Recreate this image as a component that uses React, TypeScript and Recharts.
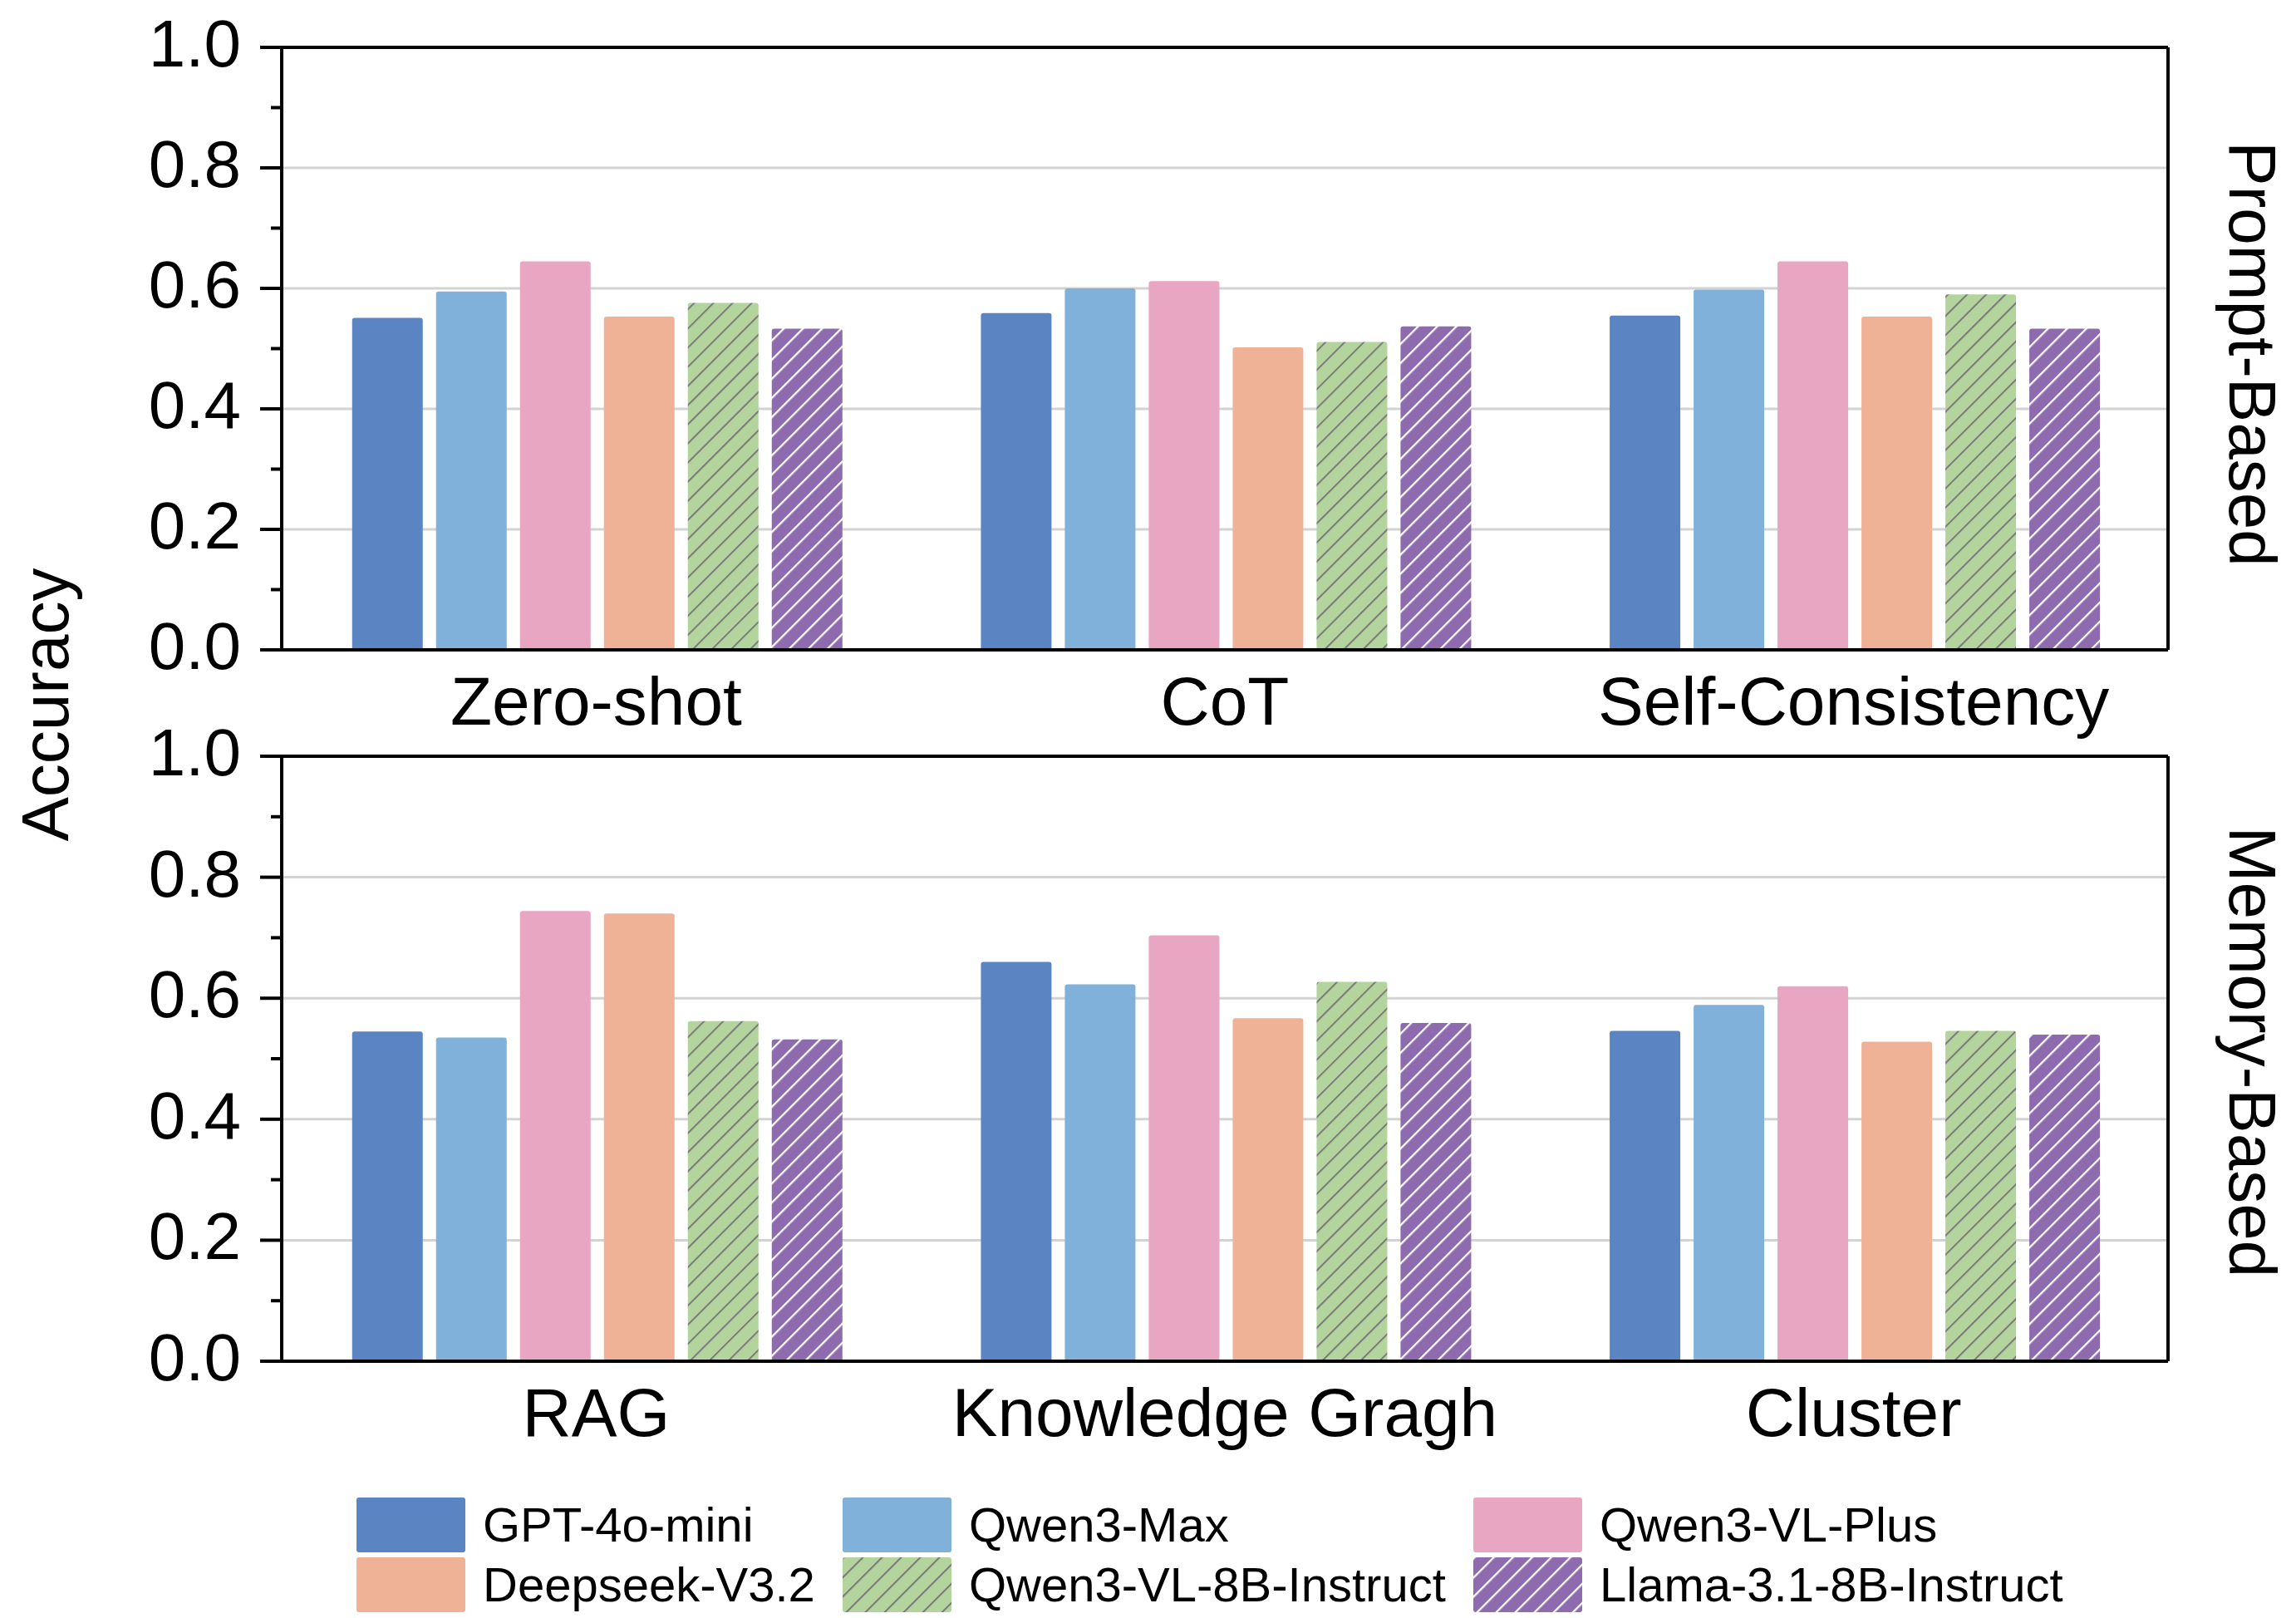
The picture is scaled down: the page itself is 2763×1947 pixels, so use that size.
import React from "react";
import {
  BarChart,
  Bar,
  XAxis,
  YAxis,
  CartesianGrid,
} from "recharts";

// categories per panel
const promptMethods = ["Zero-shot", "CoT", "Self-Consistency"];
const memoryMethods = ["RAG", "Knowledge Gragh", "Cluster"];

const models = [
  "GPT-4o-mini",
  "Qwen3-Max",
  "Qwen3-VL-Plus",
  "Deepseek-V3.2",
  "Qwen3-VL-8B-Instruct",
  "Llama-3.1-8B-Instruct",
];

// Prompt-Based accuracy
const promptGpt = [0.551, 0.559, 0.555];
const promptQwenMax = [0.595, 0.6, 0.598];
const promptQwenVLPlus = [0.645, 0.612, 0.645];
const promptDeepseek = [0.553, 0.502, 0.553];
const promptQwenVL8B = [0.576, 0.511, 0.59];
const promptLlama = [0.533, 0.537, 0.533];

// Memory-Based accuracy
const memoryGpt = [0.545, 0.66, 0.546];
const memoryQwenMax = [0.535, 0.623, 0.589];
const memoryQwenVLPlus = [0.744, 0.704, 0.62];
const memoryDeepseek = [0.74, 0.567, 0.528];
const memoryQwenVL8B = [0.562, 0.627, 0.546];
const memoryLlama = [0.532, 0.559, 0.54];

const yTicks = [0, 0.1, 0.2, 0.3, 0.4, 0.5, 0.6, 0.7, 0.8, 0.9, 1.0];
const gridValues = [0.2, 0.4, 0.6, 0.8];

const FILLS = [
  "#5B84C2",
  "#7FB1DB",
  "#E9A6C2",
  "#F0B297",
  "url(#hatchGreen)",
  "url(#hatchPurple)",
];

const FONT = "'Liberation Sans', Arial, Helvetica, sans-serif";

const buildRows = (cats: string[], series: number[][]) =>
  cats.map((name, i) => {
    const row: Record<string, any> = { name };
    series.forEach((s, k) => {
      row[models[k]] = s[i];
    });
    return row;
  });

const promptRows = buildRows(promptMethods, [
  promptGpt,
  promptQwenMax,
  promptQwenVLPlus,
  promptDeepseek,
  promptQwenVL8B,
  promptLlama,
]);
const memoryRows = buildRows(memoryMethods, [
  memoryGpt,
  memoryQwenMax,
  memoryQwenVLPlus,
  memoryDeepseek,
  memoryQwenVL8B,
  memoryLlama,
]);

const YTick = (props: any) => {
  const { x, y, payload } = props;
  const v = Number(payload.value);
  const major = Math.round(v * 10) % 2 === 0;
  return (
    <g>
      <line
        x1={x - (major ? 26 : 13)}
        x2={x}
        y1={y}
        y2={y}
        stroke="#000"
        strokeWidth={4}
      />
      {major && (
        <text
          x={x - 49}
          y={y + 23}
          textAnchor="end"
          fontSize={80}
          fill="#000"
          fontFamily={FONT}
        >
          {v.toFixed(1)}
        </text>
      )}
    </g>
  );
};

const Panel: React.FC<{ rows: any[]; top: number; height: number }> = ({
  rows,
  top,
  height,
}) => (
  <div style={{ position: "absolute", left: 0, top }}>
    <BarChart
      width={2763}
      height={height}
      data={rows}
      margin={{ top: 55, right: 152, bottom: 0, left: 0 }}
      barCategoryGap="11.2%"
      barGap={16}
    >
      <CartesianGrid
        vertical={false}
        horizontalValues={gridValues}
        stroke="#d3d3d3"
        strokeWidth={3}
      />
      <XAxis
        dataKey="name"
        interval={0}
        tickLine={false}
        tickSize={0}
        tickMargin={32}
        height={118}
        axisLine={{ stroke: "#000", strokeWidth: 4 }}
        tick={{ fontSize: 82, fill: "#000", fontFamily: FONT }}
      />
      <XAxis
        xAxisId="top"
        dataKey="name"
        orientation="top"
        height={2}
        tick={false}
        tickLine={false}
        axisLine={{ stroke: "#000", strokeWidth: 4 }}
      />
      <YAxis
        domain={[0, 1]}
        ticks={yTicks}
        interval={0}
        width={339}
        tickSize={0}
        tickMargin={0}
        tickLine={false}
        axisLine={{ stroke: "#000", strokeWidth: 4 }}
        tick={<YTick />}
      />
      <YAxis
        yAxisId="right"
        orientation="right"
        domain={[0, 1]}
        width={2}
        tick={false}
        tickLine={false}
        axisLine={{ stroke: "#000", strokeWidth: 4 }}
      />
      {models.map((m, k) => (
        <Bar
          key={m}
          dataKey={m}
          fill={FILLS[k]}
          radius={[3, 3, 0, 0]}
          isAnimationActive={false}
        />
      ))}
    </BarChart>
  </div>
);

const legendCols = [429, 1014, 1773];
const legendRows = [1802, 1874];

const SideTitle: React.FC<{ text: string; x: number; y: number; angle: number }> = ({
  text,
  x,
  y,
  angle,
}) => (
  <text
    x={x}
    y={y}
    transform={`rotate(${angle}, ${x}, ${y})`}
    textAnchor="middle"
    fontSize={80}
    fill="#000"
    fontFamily={FONT}
  >
    {text}
  </text>
);

const App: React.FC = () => {
  return (
    <div
      style={{
        position: "absolute",
        left: 0,
        top: 0,
        width: 2763,
        height: 1947,
        background: "#fff",
        fontFamily: FONT,
        overflow: "hidden",
      }}
    >
      <svg width={0} height={0} style={{ position: "absolute" }}>
        <defs>
          <pattern
            id="hatchGreen"
            patternUnits="userSpaceOnUse"
            width={16.3}
            height={16.3}
            patternTransform="rotate(45)"
          >
            <rect width={16.3} height={16.3} fill="#B3D49C" />
            <line x1={1} y1={0} x2={1} y2={16.3} stroke="#7a7a7a" strokeWidth={2} />
          </pattern>
          <pattern
            id="hatchPurple"
            patternUnits="userSpaceOnUse"
            width={16.3}
            height={16.3}
            patternTransform="rotate(45)"
          >
            <rect width={16.3} height={16.3} fill="#8D6BAE" />
            <line x1={1} y1={0} x2={1} y2={16.3} stroke="#ffffff" strokeWidth={2.5} />
          </pattern>
        </defs>
      </svg>

      <Panel rows={promptRows} top={0} height={900} />
      <Panel rows={memoryRows} top={853} height={903} />

      <svg
        width={2763}
        height={1780}
        style={{ position: "absolute", left: 0, top: 0, pointerEvents: "none" }}
      >
        <SideTitle text="Accuracy" x={82} y={848} angle={-90} />
        <SideTitle text="Prompt-Based" x={2683} y={426} angle={90} />
        <SideTitle text="Memory-Based" x={2683} y={1266} angle={90} />
      </svg>

      {models.map((m, k) => {
        const col = k % 3;
        const row = Math.floor(k / 3);
        return (
          <div
            key={m}
            style={{
              position: "absolute",
              left: legendCols[col],
              top: legendRows[row],
              height: 66,
              display: "flex",
              alignItems: "center",
              whiteSpace: "nowrap",
            }}
          >
            <svg width={131} height={66} style={{ display: "block" }}>
              <rect width={131} height={66} rx={3} fill={FILLS[k]} />
            </svg>
            <span
              style={{
                marginLeft: 21,
                fontSize: 58,
                color: "#000",
                lineHeight: "66px",
              }}
            >
              {m}
            </span>
          </div>
        );
      })}
    </div>
  );
};

export default App;
